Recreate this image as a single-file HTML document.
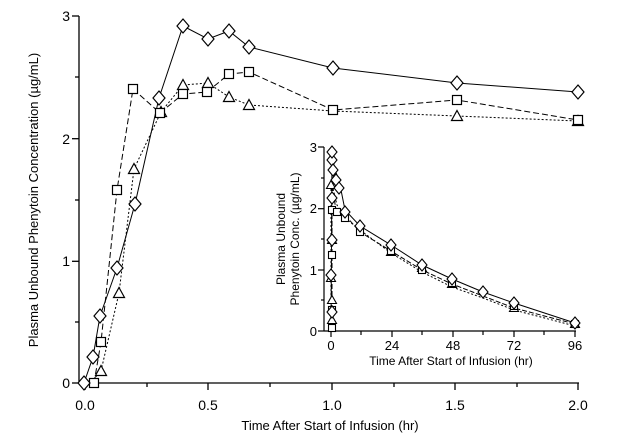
<!DOCTYPE html><html><head><style>body{margin:0;background:#fff}svg{display:block;font-family:"Liberation Sans",sans-serif}</style></head><body>
<svg width="617" height="441" viewBox="0 0 617 441">
<defs>
<g id="d"><polygon points="0,-7 6,0 0,7 -6,0" fill="#fff" stroke="#000" stroke-width="1.2"/></g>
<g id="s"><rect x="-4.5" y="-4.5" width="9" height="9" fill="#fff" stroke="#000" stroke-width="1.2"/></g>
<g id="t"><polygon points="0,-5.5 5.5,4.5 -5.5,4.5" fill="#fff" stroke="#000" stroke-width="1.2"/></g>
<g id="d2"><polygon points="0,-6 5,0 0,6 -5,0" fill="#fff" stroke="#000" stroke-width="1.1"/></g>
<g id="s2"><rect x="-3.5" y="-3.5" width="7" height="7" fill="#fff" stroke="#000" stroke-width="1.1"/></g>
<g id="t2"><polygon points="0,-4.5 4.5,3.5 -4.5,3.5" fill="#fff" stroke="#000" stroke-width="1.1"/></g>
</defs>
<g stroke="#000" stroke-width="1.3" fill="none">
<line x1="79" y1="16" x2="79" y2="384"/><line x1="79" y1="383" x2="579" y2="383"/>
<line x1="72" y1="16" x2="79" y2="16"/><line x1="72" y1="138.7" x2="79" y2="138.7"/><line x1="72" y1="261.3" x2="79" y2="261.3"/><line x1="72" y1="383" x2="79" y2="383"/>
<line x1="75" y1="77" x2="79" y2="77"/><line x1="75" y1="200" x2="79" y2="200"/><line x1="75" y1="322" x2="79" y2="322"/>
<line x1="85" y1="383" x2="85" y2="390"/><line x1="208" y1="383" x2="208" y2="390"/><line x1="332" y1="383" x2="332" y2="390"/><line x1="455" y1="383" x2="455" y2="390"/><line x1="578" y1="383" x2="578" y2="390"/>
<line x1="147" y1="383" x2="147" y2="387"/><line x1="270" y1="383" x2="270" y2="387"/><line x1="394" y1="383" x2="394" y2="387"/><line x1="517" y1="383" x2="517" y2="387"/>
</g>
<g font-size="14" text-anchor="end"><text x="70" y="21">3</text><text x="70" y="144">2</text><text x="70" y="266">1</text><text x="70" y="388">0</text></g>
<g font-size="14" text-anchor="middle"><text x="85" y="410">0.0</text><text x="208" y="410">0.5</text><text x="332" y="410">1.0</text><text x="455" y="410">1.5</text><text x="578" y="410">2.0</text></g>
<text x="330" y="430" font-size="13" text-anchor="middle">Time After Start of Infusion (hr)</text>
<text transform="translate(38,200) rotate(-90)" font-size="13" text-anchor="middle">Plasma Unbound Phenytoin Concentration (µg/mL)</text>
<g fill="none" stroke="#000" stroke-width="1">
<polyline points="84,383 93,357 100,316 117,268 135,204 159,98 183,26 208,39 229,31 249,47 333,68 457,83 578,92"/>
<polyline stroke-dasharray="6,3" points="94,383 101,342 117,190 133,89 160,113 183,94 207,92 229,74 249,72 333,110 457,100 578,120"/>
<polyline stroke-dasharray="2,2" points="90,383 101,371 119,293 134,169 161,112 183,85 208,83 229,97 249,105 333,111 457,116 578,121"/>
</g>
<g>
<use href="#t" x="101" y="371"/><use href="#t" x="119" y="293"/><use href="#t" x="134" y="169"/><use href="#t" x="161" y="112"/><use href="#t" x="183" y="85"/><use href="#t" x="208" y="83"/><use href="#t" x="229" y="97"/><use href="#t" x="249" y="105"/><use href="#t" x="457" y="116"/><use href="#t" x="578" y="121"/>
<use href="#s" x="94" y="383"/><use href="#s" x="101" y="342"/><use href="#s" x="117" y="190"/><use href="#s" x="133" y="89"/><use href="#s" x="160" y="113"/><use href="#s" x="183" y="94"/><use href="#s" x="207" y="92"/><use href="#s" x="229" y="74"/><use href="#s" x="249" y="72"/><use href="#s" x="333" y="110"/><use href="#s" x="457" y="100"/><use href="#s" x="578" y="120"/>
<use href="#d" x="84" y="383"/><use href="#d" x="93" y="357"/><use href="#d" x="100" y="316"/><use href="#d" x="117" y="268"/><use href="#d" x="135" y="204"/><use href="#d" x="159" y="98"/><use href="#d" x="183" y="26"/><use href="#d" x="208" y="39"/><use href="#d" x="229" y="31"/><use href="#d" x="249" y="47"/><use href="#d" x="333" y="68"/><use href="#d" x="457" y="83"/><use href="#d" x="578" y="92"/>
</g>
<!-- inset -->
<g stroke="#000" stroke-width="1.2" fill="none">
<line x1="324" y1="147" x2="324" y2="331"/><line x1="324" y1="331" x2="576" y2="331"/>
<line x1="318" y1="147" x2="324" y2="147"/><line x1="318" y1="208.7" x2="324" y2="208.7"/><line x1="318" y1="270" x2="324" y2="270"/><line x1="318" y1="331" x2="324" y2="331"/>
<line x1="321" y1="178" x2="324" y2="178"/><line x1="321" y1="239" x2="324" y2="239"/><line x1="321" y1="300" x2="324" y2="300"/>
<line x1="331" y1="331" x2="331" y2="337"/><line x1="392" y1="331" x2="392" y2="337"/><line x1="453" y1="331" x2="453" y2="337"/><line x1="514" y1="331" x2="514" y2="337"/><line x1="575" y1="331" x2="575" y2="337"/>
<line x1="361" y1="331" x2="361" y2="335"/><line x1="422" y1="331" x2="422" y2="335"/><line x1="483" y1="331" x2="483" y2="335"/><line x1="544" y1="331" x2="544" y2="335"/>
</g>
<g font-size="13" text-anchor="end"><text x="317" y="152">3</text><text x="317" y="213">2</text><text x="317" y="275">1</text><text x="317" y="336">0</text></g>
<g font-size="13" text-anchor="middle"><text x="331" y="350">0</text><text x="392" y="350">24</text><text x="453" y="350">48</text><text x="514" y="350">72</text><text x="575" y="350">96</text></g>
<text x="451" y="365" font-size="12" text-anchor="middle">Time After Start of Infusion (hr)</text>
<text transform="translate(285,239) rotate(-90)" font-size="12" text-anchor="middle">Plasma Unbound</text>
<text transform="translate(299,239) rotate(-90)" font-size="12" text-anchor="middle">Phenytoin Conc. (µg/mL)</text>
<g fill="none" stroke="#000" stroke-width="1">
<polyline points="331,331 332,155 335,170 339,180 345,210 360,226 391,245 422,265 452,279 483,292 514,303 575,323"/>
<polyline stroke-dasharray="5,2" points="332,331 332,185 336,210 345,215 360,232 391,251 422,270 452,284 483,296 514,308 575,324"/>
<polyline stroke-dasharray="2,2" points="331,331 331,180 337,205 345,218 360,230 391,253 422,272 452,287 483,298 514,310 575,326"/>
</g>
<g>
<use href="#t2" x="332" y="320"/><use href="#t2" x="332" y="300"/><use href="#t2" x="331" y="278"/><use href="#t2" x="332" y="240"/><use href="#t2" x="331" y="185"/><use href="#t2" x="391" y="252"/><use href="#t2" x="422" y="268"/><use href="#t2" x="452" y="284"/><use href="#t2" x="514" y="308"/><use href="#t2" x="575" y="324"/>
<use href="#s2" x="332" y="328"/><use href="#s2" x="332" y="310"/><use href="#s2" x="332" y="255"/><use href="#s2" x="332" y="210"/><use href="#s2" x="337" y="212"/><use href="#s2" x="345" y="218"/><use href="#s2" x="360" y="232"/><use href="#s2" x="391" y="251"/><use href="#s2" x="422" y="270"/><use href="#s2" x="452" y="283"/><use href="#s2" x="514" y="306"/><use href="#s2" x="575" y="324"/>
<use href="#d2" x="332" y="312"/><use href="#d2" x="331" y="275"/><use href="#d2" x="332" y="240"/><use href="#d2" x="332" y="198"/><use href="#d2" x="332" y="160"/><use href="#d2" x="332" y="152"/><use href="#d2" x="333" y="170"/><use href="#d2" x="336" y="180"/><use href="#d2" x="339" y="188"/><use href="#d2" x="345" y="212"/><use href="#d2" x="360" y="226"/><use href="#d2" x="391" y="245"/><use href="#d2" x="422" y="265"/><use href="#d2" x="452" y="279"/><use href="#d2" x="483" y="292"/><use href="#d2" x="514" y="303"/><use href="#d2" x="575" y="323"/>
</g>
</svg>
</body></html>
